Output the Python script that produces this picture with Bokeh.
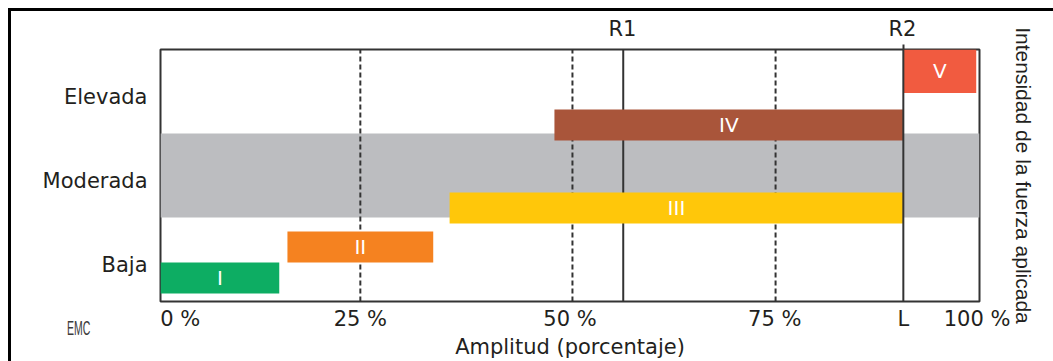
from bokeh.plotting import figure
from bokeh.models import Range1d, FixedTicker, LinearAxis, ColumnDataSource
from bokeh.core.properties import value
from bokeh.embed import file_html
from bokeh.resources import INLINE

# ---- data ----
levels = ["Baja", "Moderada", "Elevada"]
level_pos = [0, 1, 2]

bar_labels = ["I", "II", "III", "IV", "V"]
bar_start = [0.0, 15.5, 35.3, 48.1, 90.7]
bar_end = [14.5, 33.3, 90.7, 90.7, 99.6]
bar_bottom = [-0.345, 0.024, 0.489, 1.477, 2.042]
bar_top = [0.024, 0.393, 0.858, 1.846, 2.56]
bar_colors = ["#0DAD63", "#F58220", "#FFC70A", "#A9553A", "#F15B40"]

band_bottom = [0.56]
band_top = [1.56]

dashed_x = [24.4, 50.3, 75.1]
r1_x = 56.5
l_x = 90.7

x_tick_pos = [2.4, 24.4, 50.0, 75.0, 90.7, 99.7]
x_tick_text = ["0 %", "25 %", "50 %", "75 %", "L", "100 %"]
top_tick_pos = [56.4, 90.6]
top_tick_text = ["R1", "R2"]

FONT = "DejaVu Sans"
TXT = "#231F20"
LINE = "#333333"

y0, y1 = -0.44, 2.56

p = figure(width=1053, height=361, x_range=Range1d(0, 100), y_range=Range1d(y0, y1),
           output_backend="svg", toolbar_location=None,
           min_border_left=160, min_border_right=74, min_border_top=49, min_border_bottom=60)
p.grid.visible = False
p.outline_line_color = LINE
p.outline_line_width = 2
p.background_fill_color = "white"
p.border_fill_color = None

# outer black frame (top and left edges) and the small logo, drawn by the page around the canvas
p.styles = {
    "background": "linear-gradient(#000,#000) 8px 8px / 3px 100% no-repeat, "
                  "linear-gradient(#000,#000) 8px 8px / 100% 3px no-repeat, #fff",
}
p.stylesheets = [
    ":host::after { content: 'EMC'; position: absolute; left: 67px; top: 316px; "
    "font-family: 'Liberation Sans', sans-serif; font-size: 21px; line-height: 24px; "
    "transform: scaleX(0.5); transform-origin: 0 0; color: #3a3a3a; z-index: 10; }"
]

# gray band
p.quad(left=[0], right=[100], bottom=band_bottom, top=band_top, fill_color="#BCBDC0", line_color=None)

# dashed guides and R1 line (under bars)
p.segment(x0=dashed_x, x1=dashed_x, y0=[y0] * len(dashed_x), y1=[y1] * len(dashed_x),
          line_color=LINE, line_width=2, line_dash="5 3")
p.segment(x0=[r1_x], x1=[r1_x], y0=[y0], y1=[y1], line_color=LINE, line_width=2)

# bars
src = ColumnDataSource(dict(left=bar_start, right=bar_end, bottom=bar_bottom, top=bar_top,
                            color=bar_colors, label=bar_labels,
                            xc=[(a + b) / 2 for a, b in zip(bar_start, bar_end)],
                            yc=[(a + b) / 2 for a, b in zip(bar_bottom, bar_top)]))
p.quad(left="left", right="right", bottom="bottom", top="top", fill_color="color", line_color=None, source=src)
p.text(x="xc", y="yc", text="label", source=src, text_color="white", text_align="center",
       text_baseline="middle", text_font=value(FONT), text_font_size="20px")

# L / R2 line on top
p.segment(x0=[l_x], x1=[l_x], y0=[y0], y1=[y1], line_color=LINE, line_width=2)

def clean(ax):
    ax.axis_line_color = None
    ax.major_tick_line_color = None
    ax.minor_tick_line_color = None
    ax.major_tick_out = 0
    ax.major_tick_in = 0
    ax.minor_tick_out = 0
    ax.minor_tick_in = 0
    ax.major_label_text_font = FONT
    ax.major_label_text_font_size = "21px"
    ax.major_label_text_color = TXT

# bottom axis
xa = p.xaxis[0]
xa.ticker = FixedTicker(ticks=x_tick_pos)
xa.major_label_overrides = {t: s for t, s in zip(x_tick_pos, x_tick_text)}
clean(xa)
xa.major_label_standoff = 5
xa.axis_label = "Amplitud (porcentaje)"
xa.axis_label_standoff = 1
xa.axis_label_text_font = FONT
xa.axis_label_text_font_style = "normal"
xa.axis_label_text_font_size = "21px"
xa.axis_label_text_color = TXT

# left axis
ya = p.yaxis[0]
ya.ticker = FixedTicker(ticks=level_pos)
ya.major_label_overrides = {t: s for t, s in zip(level_pos, levels)}
clean(ya)
ya.major_label_standoff = 13

# top axis
ta = LinearAxis(ticker=FixedTicker(ticks=top_tick_pos, minor_ticks=[l_x]))
ta.major_label_overrides = {t: s for t, s in zip(top_tick_pos, top_tick_text)}
clean(ta)
ta.minor_tick_line_color = LINE
ta.minor_tick_line_width = 2
ta.minor_tick_out = 5
ta.major_label_standoff = 4
p.add_layout(ta, "above")

# right axis carrying the vertical title
ra = LinearAxis(ticker=FixedTicker(ticks=[]), axis_label="Intensidad de la fuerza aplicada")
clean(ra)
ra.major_label_standoff = 0
ra.axis_label_standoff = 32
ra.axis_label_text_font = "Liberation Sans"
ra.axis_label_text_font_style = "normal"
ra.axis_label_text_font_size = "21px"
ra.axis_label_text_color = TXT
p.add_layout(ra, "right")

open("out.html", "w").write(file_html(p, INLINE))
